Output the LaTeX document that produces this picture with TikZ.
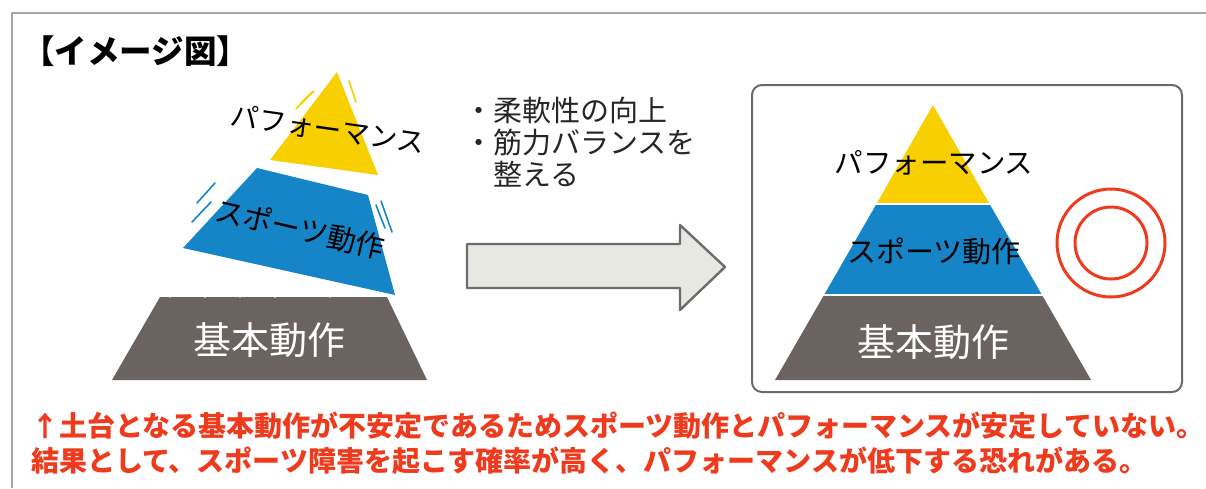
\documentclass[tikz,border=0pt]{standalone}
\usepackage{fontspec}
\setmainfont{Noto Sans CJK JP}
\usetikzlibrary{calc, positioning}

\definecolor{pyrYellow}{RGB}{248,207,0}
\definecolor{pyrBlue}{RGB}{21,133,200}
\definecolor{pyrGray}{RGB}{107,99,96}
\definecolor{warnRed}{RGB}{238,59,30}
\definecolor{arrowFill}{RGB}{232,232,227}
\definecolor{boxLine}{RGB}{106,106,106}

\tikzset{
    jp/.style={inner sep=0pt, font=\fontsize{#1}{#1}\selectfont},
    jpbold/.style={inner sep=0pt, font=\fontsize{#1}{#1}\selectfont\bfseries},
    shake/.style={line width=1.6pt, line cap=round},
}

\begin{document}
\begin{tikzpicture}[x=1pt, y=-1pt, line join=round]
        \useasboundingbox (0,0) rectangle (1206,488);

        % outer frame
        \draw[gray!70, line width=2pt] (1206,13) -- (12,13) -- (12,488);

        \node[jpbold=32.5, anchor=west] (title) at (22,51) {【イメージ図】};

        % unstable pyramid (left)
        \coordinate (B1) at (112,380);
        \coordinate (B2) at (160,297);
        \coordinate (B3) at (387,297);
        \coordinate (B4) at (427,380);
        \fill[pyrGray] (B1) -- (B2) -- (B3) -- (B4) -- cycle;
        \foreach \x in {170,205,240,275,330} {
            \fill[white] (\x,296) circle (1.8);
        }
        \node[jp=38, white] (baseL) at (269,340) {基本動作};

        \coordinate (S1) at (257,168);
        \coordinate (S2) at (368,195);
        \coordinate (S3) at (395,295);
        \coordinate (S4) at (183,248);
        \fill[pyrBlue] (S1) -- (S2) -- (S3) -- (S4) -- cycle;
        \node[jp=29, rotate=-13] (sportL) at (300,229) {スポーツ動作};
        \draw[shake, pyrBlue] (197,203) -- (215,183);
        \draw[shake, pyrBlue] (192,222) -- (211,202);
        \draw[shake, pyrBlue] (381,201) -- (392,232);
        \draw[shake, pyrBlue] (376,205) -- (385,228);

        \coordinate (P1) at (337,72);
        \coordinate (P2) at (378,175);
        \coordinate (P3) at (270,160);
        \fill[pyrYellow] (P1) -- (P2) -- (P3) -- cycle;
        \node[jp=28, rotate=-8] (perfL) at (328,129) {パフォーマンス};
        \draw[shake, pyrYellow] (296,109) -- (314,91);
        \draw[shake, pyrYellow] (300,104) -- (312,92);
        \draw[shake, pyrYellow] (349,81) -- (356,102);

        % what to train
        \node[jp=29, anchor=north west, align=left, text=black!85]
            (points) at (464,97) {・柔軟性の向上\\[3pt]・筋力バランスを\\[3pt]　整える};

        % big arrow
        \draw[fill=arrowFill, draw=gray!85!black, line width=2.4pt]
            (467,244) -- (680,244) -- (680,225) -- (725,267)
            -- (680,310) -- (680,288) -- (467,288) -- cycle;

        % stable pyramid (right)
        \draw[boxLine, line width=2pt, rounded corners=10pt]
            (752,85) rectangle (1182,392);
        \coordinate (apex) at (933,105);
        \fill[pyrYellow] (apex) -- (989,203) -- (877,203) -- cycle;
        \fill[pyrBlue] (877,203) -- (989,203) -- (1042,295) -- (824,295) -- cycle;
        \fill[pyrGray] (824,295) -- (1042,295) -- (1091,380) -- (775,380) -- cycle;
        \draw[white, line width=2pt] (870,203.5) -- (996,203.5);
        \draw[white, line width=2pt] (818,295) -- (1048,295);
        \node[jp=28.5] (perfR) at (934,163) {パフォーマンス};
        \node[jp=29] (sportR) at (934,251) {スポーツ動作};
        \node[jp=38, white] (baseR) at (933,342) {基本動作};

        % double circle
        \draw[warnRed, line width=3pt] (1111,243) circle (54);
        \draw[warnRed, line width=3pt] (1111,243) circle (36);

        % note
        \node[jpbold=28, text=warnRed, anchor=west] (note1) at (31,426)
            {↑土台となる基本動作が不安定であるためスポーツ動作とパフォーマンスが安定していない。};
        \node[jpbold=28, text=warnRed, anchor=west] (note2) at (31,461)
            {結果として、スポーツ障害を起こす確率が高く、パフォーマンスが低下する恐れがある。};
\end{tikzpicture}
\end{document}
